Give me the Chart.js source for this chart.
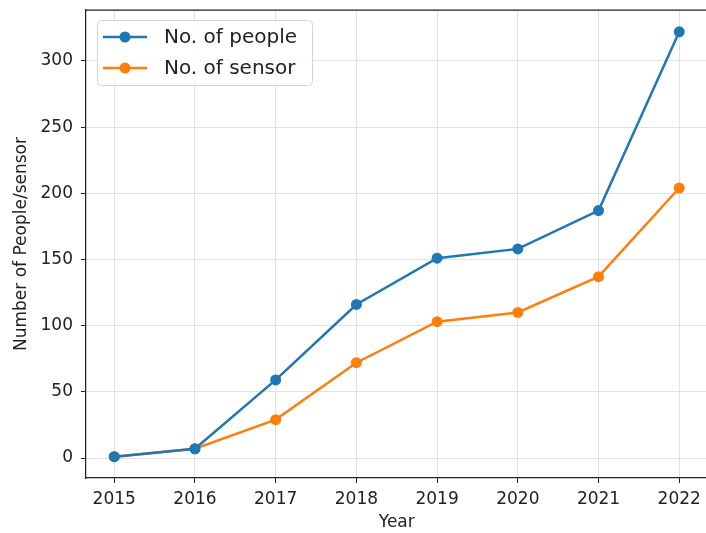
<!DOCTYPE html>
<html>
<head>
<meta charset="utf-8">
<script src="https://cdn.jsdelivr.net/npm/chart.js"></script>
<style>
  html, body { margin: 0; padding: 0; background: #fff; overflow: hidden; }
  #wrap { width: 713px; height: 533px; }
</style>
</head>
<body>
<div id="wrap"><canvas id="chart"></canvas></div>
<script>
// ---------------------
// Data
// ---------------------
const years = [2015, 2016, 2017, 2018, 2019, 2020, 2021, 2022];
const people = [1, 7, 59, 116, 151, 158, 187, 322];
const sensors = [1, 7, 29, 72, 103, 110, 137, 204];
const yTicks = [0, 50, 100, 150, 200, 250, 300];

const FONT = 'DejaVu Sans';
const BLUE = '#1f77b4';
const ORANGE = '#ff7f0e';

const toPoints = vals => years.map((yr, i) => ({ x: yr, y: vals[i] }));

// frame (top/right spines) + matplotlib style legend box
const framePlugin = {
  id: 'frame',
  afterDraw(chart) {
    const { ctx, chartArea: a } = chart;
    ctx.save();
    ctx.strokeStyle = '#222';
    ctx.lineWidth = 1.25;
    ctx.beginPath();
    ctx.moveTo(a.left, a.top);
    ctx.lineTo(a.right, a.top);
    ctx.lineTo(a.right, a.bottom);
    ctx.stroke();

    // legend
    const bx = 97, by = 20, bw = 215, bh = 65, r = 4;
    ctx.fillStyle = 'rgba(255,255,255,0.8)';
    ctx.strokeStyle = '#d5d5d5';
    ctx.lineWidth = 1;
    ctx.beginPath();
    ctx.roundRect(bx + 0.5, by + 0.5, bw, bh, r);
    ctx.fill();
    ctx.stroke();
    ctx.font = '20px ' + FONT;
    ctx.textBaseline = 'middle';
    chart.data.datasets.forEach((ds, i) => {
      const cy = by + 17 + i * 31;
      ctx.strokeStyle = ds.borderColor;
      ctx.lineWidth = 2.5;
      ctx.beginPath();
      ctx.moveTo(103, cy);
      ctx.lineTo(147, cy);
      ctx.stroke();
      ctx.fillStyle = ds.borderColor;
      ctx.beginPath();
      ctx.arc(125, cy, 5.5, 0, Math.PI * 2);
      ctx.fill();
      ctx.fillStyle = '#222';
      ctx.fillText(ds.label, 164, cy + 1);
    });
    ctx.restore();
  }
};

new Chart(document.getElementById('chart'), {
  type: 'line',
  data: {
    datasets: [{
      label: 'No. of people',
      data: toPoints(people),
      borderColor: BLUE,
      backgroundColor: BLUE,
      borderWidth: 2.5,
      pointRadius: 5.5,
      pointHoverRadius: 5.5,
      pointBorderWidth: 0,
      tension: 0
    }, {
      label: 'No. of sensor',
      data: toPoints(sensors),
      borderColor: ORANGE,
      backgroundColor: ORANGE,
      borderWidth: 2.5,
      pointRadius: 5.5,
      pointHoverRadius: 5.5,
      pointBorderWidth: 0,
      tension: 0
    }]
  },
  options: {
    responsive: true,
    maintainAspectRatio: false,
    animation: false,
    events: [],
    layout: { padding: { top: 10, right: 1, left: 0, bottom: 0 } },
    plugins: {
      legend: { display: false },
      tooltip: { enabled: false }
    },
    scales: {
      x: {
        type: 'linear',
        min: 2014.65,
        max: 2022.35,
        afterBuildTicks: s => { s.ticks = years.map(v => ({ value: v })); },
        afterFit: s => { s.height = 55; s.paddingLeft = 0; s.paddingRight = 0; },
        grid: { color: '#e2e2e2', lineWidth: 1, tickColor: '#222', tickLength: 5 },
        border: { color: '#222', width: 1.25 },
        ticks: {
          color: '#222',
          font: { family: FONT, size: 17 },
          padding: 6,
          maxRotation: 0,
          callback: v => String(v)
        },
        title: {
          display: true,
          text: 'Year',
          color: '#222',
          font: { family: FONT, size: 17 },
          padding: { top: 1, bottom: 0 }
        }
      },
      y: {
        min: -15.1,
        max: 338.5,
        afterBuildTicks: s => { s.ticks = yTicks.map(v => ({ value: v })); },
        afterFit: s => { s.width = 86; s.paddingTop = 0; s.paddingBottom = 0; },
        grid: { color: '#e2e2e2', lineWidth: 1, tickColor: '#222', tickLength: 5 },
        border: { color: '#222', width: 1.25 },
        ticks: {
          color: '#222',
          font: { family: FONT, size: 17 },
          padding: 8
        },
        title: {
          display: true,
          text: 'Number of People/sensor',
          color: '#222',
          font: { family: FONT, size: 17 },
          padding: { top: 11, bottom: 0 }
        }
      }
    }
  },
  plugins: [framePlugin]
});
</script>
</body>
</html>
